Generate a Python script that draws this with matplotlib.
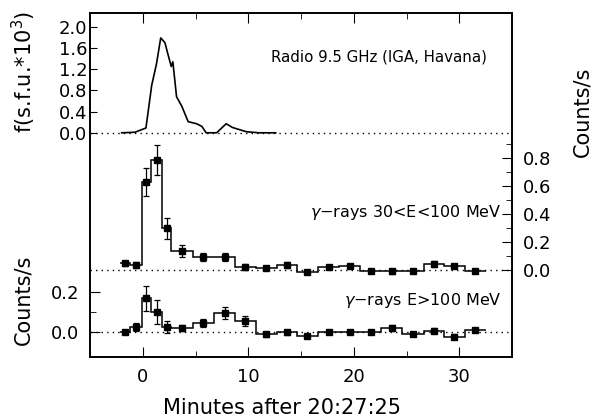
"""
Radio and gamma-ray time profiles of the flare, stacked in one frame.
"""

import numpy as np
import matplotlib
matplotlib.use('Agg')
import matplotlib.pyplot as plt
from matplotlib.ticker import FixedLocator

# radio flux at 9.5 GHz, units of s.f.u.*10^3
radio_t = [-2.0, -0.75, 0.3, 0.85, 1.3, 1.7, 2.1, 2.4, 2.7, 2.85, 3.2, 3.7,
           4.3, 5.1, 5.6, 6.0, 7.0, 7.9, 8.5, 9.8, 11.0, 12.6]
radio_f = [0.0, 0.01, 0.09, 0.9, 1.3, 1.79, 1.7, 1.47, 1.25, 1.34, 0.68, 0.5,
           0.21, 0.17, 0.12, 0.0, 0.0, 0.17, 0.1, 0.02, 0.0, 0.0]

# time bins (minutes) shared by both gamma-ray light curves
bin_edges = [-2.2, -1.2, -0.1, 0.8, 1.85, 2.7, 4.75, 6.75, 8.75, 10.7, 12.7,
             14.6, 16.6, 18.6, 20.6, 22.6, 24.6, 26.6, 28.5, 30.5, 32.5]

# 30 < E < 100 MeV
low_rate = [0.048, 0.036, 0.63, 0.786, 0.30, 0.136, 0.095, 0.095, 0.02, 0.012,
            0.036, -0.012, 0.024, 0.029, -0.005, -0.01, -0.005, 0.043, 0.029, -0.005]
low_err = [0.02, 0.02, 0.10, 0.107, 0.075, 0.04, 0.03, 0.03, 0.02, 0.015,
           0.02, 0.015, 0.015, 0.015, 0.015, 0.015, 0.015, 0.02, 0.015, 0.015]

# E > 100 MeV
high_rate = [0.0, 0.027, 0.168, 0.098, 0.027, 0.018, 0.043, 0.093, 0.055, -0.012,
             -0.002, -0.02, 0.0, 0.0, 0.0, 0.02, -0.01, 0.007, -0.023, 0.01]
high_err = [0.01, 0.02, 0.063, 0.06, 0.03, 0.015, 0.02, 0.03, 0.025, 0.012,
            0.012, 0.012, 0.012, 0.012, 0.012, 0.015, 0.012, 0.012, 0.012, 0.012]

plt.rcParams['font.family'] = 'DejaVu Sans'
plt.rcParams['xtick.direction'] = 'in'
plt.rcParams['ytick.direction'] = 'in'

fig = plt.figure(figsize=(5.98, 4.19), dpi=100)
ax = fig.add_axes([0.1505, 0.148, 0.706, 0.821])
ax2 = ax.twinx()
ax3 = ax.twinx()

edges = np.array(bin_edges)
centres = 0.5 * (edges[:-1] + edges[1:])


def draw_hist(a, rate, err):
    r = np.array(rate)
    a.stairs(r, edges, color='k', lw=1.1, baseline=None)
    a.errorbar(centres, r, yerr=err, fmt='s', ms=3.8, color='k',
               ecolor='k', elinewidth=0.9, capsize=2.2, capthick=0.9)
    a.axhline(0, color='k', lw=1.0, ls=(0, (1, 3)))


# radio trace (top)
ax.plot(radio_t, radio_f, color='k', lw=1.2)
ax.axhline(0, color='k', lw=1.0, ls=(0, (1, 3)))
ax.set_ylim(-4.23, 2.26)
ax.set_xlim(-5, 35)
ax.yaxis.set_major_locator(FixedLocator([0.0, 0.4, 0.8, 1.2, 1.6, 2.0]))
ax.set_yticklabels(['%.1f' % v for v in [0.0, 0.4, 0.8, 1.2, 1.6, 2.0]])
ax.xaxis.set_major_locator(FixedLocator([0, 10, 20, 30]))
ax.xaxis.set_minor_locator(FixedLocator([5, 15, 25]))
ax.tick_params(axis='x', which='both', top=True, labelsize=13, pad=8)
ax.tick_params(axis='x', which='major', length=7)
ax.tick_params(axis='x', which='minor', length=4)
ax.tick_params(axis='y', labelsize=13, length=5, pad=2)
for s in ax.spines.values():
    s.set_linewidth(1.4)

# middle trace, right-hand scale
draw_hist(ax2, low_rate, low_err)
ax2.set_ylim(-0.621, 1.836)
ax2.yaxis.set_major_locator(FixedLocator([0.0, 0.2, 0.4, 0.6, 0.8]))
ax2.yaxis.set_minor_locator(FixedLocator([0.1, 0.3, 0.5, 0.7, 0.9]))
ax2.set_yticklabels(['%.1f' % v for v in [0.0, 0.2, 0.4, 0.6, 0.8]])
ax2.tick_params(axis='y', which='major', labelsize=13, length=7, pad=8)
ax2.tick_params(axis='y', which='minor', length=4)
for s in ax2.spines.values():
    s.set_visible(False)

# bottom trace, left-hand scale
draw_hist(ax3, high_rate, high_err)
ax3.set_ylim(-0.125, 1.595)
ax3.yaxis.tick_left()
ax3.yaxis.set_major_locator(FixedLocator([0.0, 0.2]))
ax3.yaxis.set_minor_locator(FixedLocator([0.1]))
ax3.set_yticklabels(['0.0', '0.2'])
ax3.tick_params(axis='y', which='major', labelsize=13, length=7, pad=8)
ax3.tick_params(axis='y', which='minor', length=4)
for s in ax3.spines.values():
    s.set_visible(False)

ax.text(0.94, 0.873, 'Radio 9.5 GHz (IGA, Havana)', transform=ax.transAxes,
        ha='right', va='center', fontsize=10.8)
ax2.text(0.975, 0.42, '$\\gamma$\u2212rays 30<E<100 MeV', transform=ax.transAxes,
         ha='right', va='center', fontsize=11.5)
ax3.text(0.975, 0.165, '$\\gamma$\u2212rays E>100 MeV', transform=ax.transAxes,
         ha='right', va='center', fontsize=11.5)

fig.text(24 / 598, 1 - 72 / 419, 'f(s.f.u.*10$^3$)', rotation=90,
         ha='center', va='center', fontsize=15)
fig.text(23 / 598, 1 - 300 / 419, 'Counts/s', rotation=90,
         ha='center', va='center', fontsize=15)
fig.text(582 / 598, 1 - 112 / 419, 'Counts/s', rotation=90,
         ha='center', va='center', fontsize=15)
fig.text(282 / 598, 1 - 408 / 419, 'Minutes after 20:27:25',
         ha='center', va='center', fontsize=15)

fig.savefig('out.png', dpi=100)
